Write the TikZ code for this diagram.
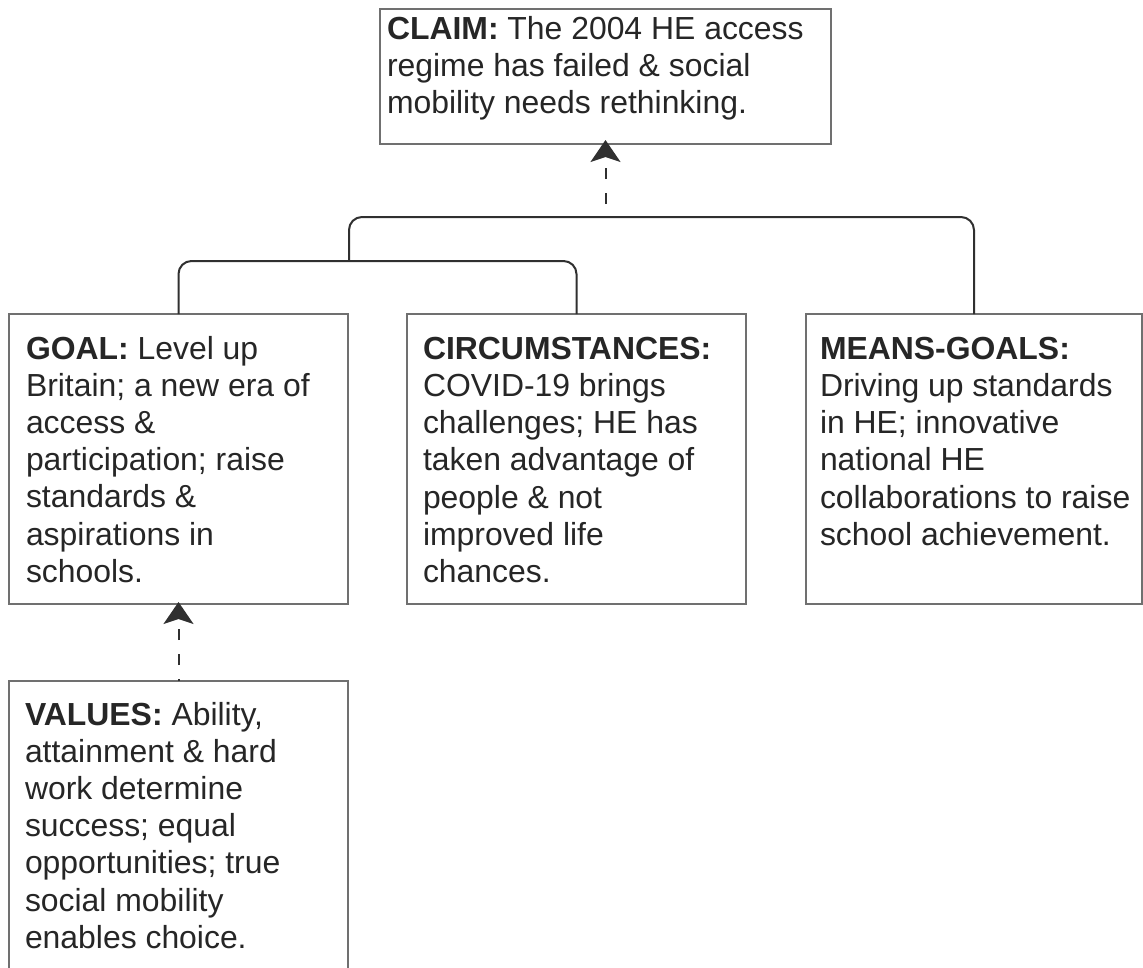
\documentclass[tikz,border=0pt]{standalone}
\usepackage{fontspec}
\setmainfont{Liberation Sans}
\usetikzlibrary{arrows.meta}
\definecolor{ink}{HTML}{262626}
\definecolor{edge}{HTML}{707070}
\definecolor{link}{HTML}{303030}
\tikzset{
  box/.style={draw=edge, line width=1.7pt, fill=white, inner sep=0pt, outer sep=0pt,
    anchor=north west, minimum width=#1},
  label/.style={anchor=north west, inner sep=0pt, outer sep=0pt, align=left,
    text=ink, font=\fontsize{31.9}{37.2}\selectfont},
  bracket/.style={draw=link, line width=2pt, rounded corners=13pt},
  support/.style={draw=link, line width=2pt, dash pattern=on 11pt off 14pt, dash phase=#1,
    -{Stealth[length=22pt, width=30pt, inset=5pt]}},
}
\begin{document}
\begin{tikzpicture}[x=1pt, y=-1pt]
  \useasboundingbox (0,0) rectangle (1143,967);
  \clip (0,0) rectangle (1143,967);

  % boxes
  \node[box=451pt, minimum height=135pt] (claim) at (380,9) {};
  \node[box=339pt, minimum height=290pt] (goal) at (9,314) {};
  \node[box=339pt, minimum height=290pt] (circ) at (407,314) {};
  \node[box=336pt, minimum height=290pt] (means) at (806,314) {};
  \node[box=339pt, minimum height=320pt] (values) at (9,681) {};

  % box texts
  \node[label] (claimtext) at (387,16)
    {\textbf{CLAIM:} The 2004 HE access\\regime has failed \& social\\mobility needs rethinking.};
  \node[label] (goaltext) at (26,336)
    {\textbf{GOAL:} Level up\\Britain; a new era of\\access \&\\participation; raise\\standards \&\\aspirations in\\schools.};
  \node[label] (circtext) at (423,337)
    {\textbf{CIRCUMSTANCES:}\\COVID-19 brings\\challenges; HE has\\taken advantage of\\people \& not\\improved life\\chances.};
  \node[label] (meanstext) at (820,337)
    {\textbf{MEANS-GOALS:}\\Driving up standards\\in HE; innovative\\national HE\\collaborations to raise\\school achievement.};
  \node[label] (valuestext) at (25,702)
    {\textbf{VALUES:} Ability,\\attainment \& hard\\work determine\\success; equal\\opportunities; true\\social mobility\\enables choice.};

  % joining brackets
  \coordinate (join) at (349,261);
  \coordinate (hub) at (605.5,217);
  \draw[bracket] (goal.north) -- (goal.north |- join) -| (circ.north);
  \draw[bracket] (join) -- (join |- hub) -| (means.north);

  % support arrows
  \draw[support=12pt] (hub) -- ([yshift=4pt]claim.south);
  \draw[support=9pt] (values.north) -- ([yshift=2pt]goal.south);
\end{tikzpicture}
\end{document}
